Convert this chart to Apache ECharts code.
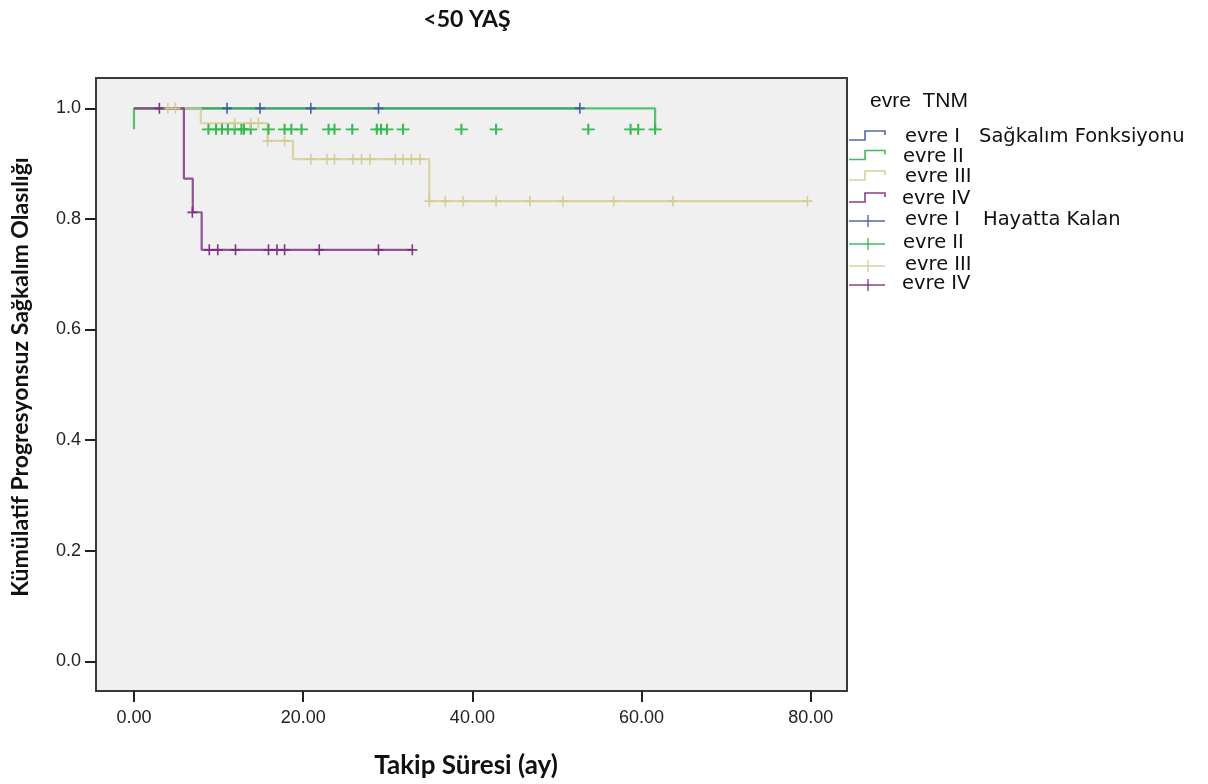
<!DOCTYPE html>
<html>
<head>
<meta charset="utf-8">
<script src="https://cdn.jsdelivr.net/npm/echarts@6/dist/echarts.min.js"></script>
<style>html,body{margin:0;padding:0;background:#fff}#c{width:1208px;height:784px}</style>
</head>
<body>
<div id="c"></div>
<script>
// ---- data ----
const xTicks = [0, 20, 40, 60, 80];
const yTicks = [0, 0.2, 0.4, 0.6, 0.8, 1.0];
const groups = ['evre I', 'evre II', 'evre III', 'evre IV'];

// survival step curves (time, survival)
const evreI_t = [0, 52.7];
const evreI_s = [1, 1];
const evreII_t = [0, 0, 61.6];
const evreII_s = [0.962, 1, 0.962];
const evreIII_t = [0, 7.9, 15.8, 18.8, 34.9, 79.6];
const evreIII_s = [1, 0.973, 0.941, 0.908, 0.832, 0.832];
const evreIV_t = [0, 5.9, 6.95, 8.0, 32.9];
const evreIV_s = [1, 0.873, 0.812, 0.744, 0.744];

// censored (Hayatta Kalan) marks
const censI_t = [11.0, 14.9, 20.9, 28.9, 52.7];
const censI_s = [1, 1, 1, 1, 1];
const censII_t = [8.8, 9.7, 10.4, 11.1, 11.9, 12.7, 13.0, 13.8, 15.9, 17.8, 18.6, 19.8, 23.0, 23.7, 25.8, 28.7, 29.2, 29.9, 31.8, 38.7, 42.8, 53.7, 58.7, 59.6, 61.6];
const censII_s = [0.962, 0.962, 0.962, 0.962, 0.962, 0.962, 0.962, 0.962, 0.962, 0.962, 0.962, 0.962, 0.962, 0.962, 0.962, 0.962, 0.962, 0.962, 0.962, 0.962, 0.962, 0.962, 0.962, 0.962, 0.962];
const censIII_t = [4.0, 4.9, 11.9, 13.8, 14.7, 15.8, 17.8, 20.9, 22.8, 23.7, 25.9, 26.9, 27.9, 30.9, 31.8, 32.8, 33.8, 34.9, 36.8, 38.9, 42.8, 46.8, 50.7, 56.7, 63.7, 79.6];
const censIII_s = [1, 1, 0.973, 0.973, 0.973, 0.941, 0.941, 0.908, 0.908, 0.908, 0.908, 0.908, 0.908, 0.908, 0.908, 0.908, 0.908, 0.832, 0.832, 0.832, 0.832, 0.832, 0.832, 0.832, 0.832, 0.832];
const censIV_t = [3.0, 6.9, 8.9, 9.9, 12.0, 15.9, 16.9, 17.8, 21.9, 28.9, 32.9];
const censIV_s = [1, 0.812, 0.744, 0.744, 0.744, 0.744, 0.744, 0.744, 0.744, 0.744, 0.744];

const colors = ['#3f55a9', '#2eb64b', '#d3cc92', '#7b2c7d'];

// ---- build ----
const zip = (t, s) => t.map((v, i) => [v, s[i]]);
const curves = [zip(evreI_t, evreI_s), zip(evreII_t, evreII_s), zip(evreIII_t, evreIII_s), zip(evreIV_t, evreIV_s)];
const cens = [zip(censI_t, censI_s), zip(censII_t, censII_s), zip(censIII_t, censIII_s), zip(censIV_t, censIV_s)];
const plus = 'path://M4.2,0H5.8V4.2H10V5.8H5.8V10H4.2V5.8H0V4.2H4.2Z';

const series = [];
const order = [1, 0, 2, 3];
order.forEach(i => {
  series.push({
    type: 'line', name: groups[i] + ' S', data: curves[i], step: 'end',
    symbol: 'none', silent: true, z: 2 + i,
    lineStyle: {color: colors[i], width: 2.2, opacity: i === 0 ? 0.7 : 0.8}
  });
});
order.forEach(i => {
  series.push({
    type: 'scatter', name: groups[i] + ' C', data: cens[i], symbol: plus,
    symbolSize: i === 1 ? [13, 11] : [10, 11], silent: true, z: 10 + i,
    itemStyle: {color: colors[i], opacity: 0.95}
  });
});

// legend drawn as graphics
const g = [];
const txt = (x, y, s, font, align) => ({type: 'text', x: x, y: y, silent: true,
  style: {text: s, font: font, fill: '#111', textAlign: align || 'left', textVerticalAlign: 'middle'}});
const lf = '19.5px "DejaVu Sans"';
g.push(txt(870, 101, 'evre  TNM', '21px "Liberation Sans"'));
const stepRows = [137, 156.5, 177, 199];
const plusRows = [220, 243, 265, 284];
const textX = [905, 903, 905, 902];
stepRows.forEach((y, i) => {
  g.push({type: 'polyline', silent: true, shape: {points: [[849, y + 3], [865, y + 3], [865, y - 6], [885, y - 6], [885, y - 2]]},
    style: {stroke: colors[i], lineWidth: 1.6, fill: null, opacity: 0.9}});
  g.push(txt(textX[i], y, groups[i], lf));
});
plusRows.forEach((y, i) => {
  g.push({type: 'line', silent: true, shape: {x1: 849, y1: y + 1, x2: 885, y2: y + 1}, style: {stroke: colors[i], lineWidth: 1.4, opacity: 0.9}});
  g.push({type: 'line', silent: true, shape: {x1: 868, y1: y - 5, x2: 868, y2: y + 7}, style: {stroke: colors[i], lineWidth: 1.4, opacity: 0.9}});
  g.push(txt(textX[i], y, groups[i], lf));
});
g.push(txt(979, 137, 'Sağkalım Fonksiyonu', lf));
g.push(txt(983, 220, 'Hayatta Kalan', lf));
// titles
g.push(txt(467, 20, '<50 YAŞ', 'bold 23px Lato', 'center'));
g.push(txt(466, 766, 'Takip Süresi (ay)', 'bold 26px Lato', 'center'));
g.push({type: 'text', x: 21, y: 377, rotation: Math.PI / 2, silent: true,
  style: {text: 'Kümülatif Progresyonsuz Sağkalım Olasılığı', font: 'bold 23px Lato', fill: '#111', textAlign: 'center', textVerticalAlign: 'middle'}});

const chart = echarts.init(document.getElementById('c'), null, {renderer: 'canvas'});
chart.setOption({
  animation: false,
  backgroundColor: '#ffffff',
  grid: {left: 96, right: 361, top: 78, bottom: 93, show: true, backgroundColor: '#f0f0f0', borderColor: '#3a3a3a', borderWidth: 2, containLabel: false},
  xAxis: {
    type: 'value', min: -4.49, max: 84.28, position: 'bottom',
    axisLine: {show: false, onZero: false},
    splitLine: {show: false},
    axisTick: {show: true, customValues: xTicks, length: 11, inside: false, lineStyle: {color: '#222', width: 2}},
    axisLabel: {customValues: xTicks, formatter: v => v.toFixed(2), fontFamily: 'Liberation Sans', fontSize: 18, color: '#222', margin: 18}
  },
  yAxis: {
    type: 'value', min: -0.0537, max: 1.0548, position: 'left',
    axisLine: {show: false, onZero: false},
    splitLine: {show: false},
    axisTick: {show: true, customValues: yTicks, length: 11, lineStyle: {color: '#222', width: 2}},
    axisLabel: {customValues: yTicks, formatter: v => v.toFixed(1), fontFamily: 'Liberation Sans', fontSize: 18, color: '#222', margin: 15}
  },
  graphic: g,
  series: series
});
</script>
</body>
</html>
